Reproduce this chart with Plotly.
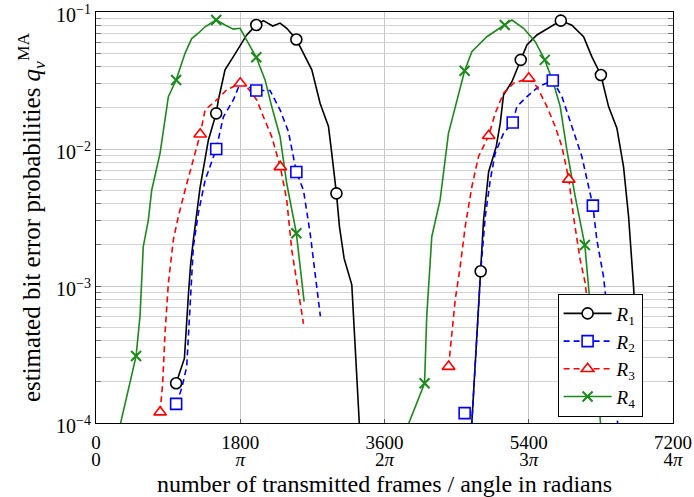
import plotly.graph_objects as go

# ---------------- data ----------------
R1_x = [1000, 1103, 1153, 1182, 1215, 1298, 1402, 1500, 1527, 1610, 1714, 1881, 2000, 2089, 2205, 2297, 2380, 2500, 2589, 2693, 2797, 2901, 2942, 3000, 3038, 3096, 3192, 3233, 3300,
        None,
        4680, 4800, 4836, 4899, 4994, 5044, 5085, 5190, 5273, 5300, 5377, 5502, 5606, 5800, 5938, 6084, 6188, 6300, 6396, 6500, 6583, 6646, 6708, 6780]
R1_y = [1.95e-4, 2.96e-4, 8.6e-4, 1.47e-3, 2.17e-3, 5.2e-3, 1.16e-2, 1.82e-2, 2.28e-2, 3.78e-2, 4.72e-2, 6.8e-2, 8.04e-2, 8.65e-2, 7.9e-2, 8.3e-2, 7.6e-2, 6.3e-2, 4.99e-2, 3.78e-2, 2.15e-2, 1.46e-2, 9.3e-3, 4.74e-3, 2.71e-3, 1.59e-3, 1.02e-3, 3.4e-4, 7e-5,
        None,
        8e-5, 1.28e-3, 3.03e-3, 6.8e-3, 1.04e-2, 1.54e-2, 2.48e-2, 3.1e-2, 4.1e-2, 4.47e-2, 5.74e-2, 6.8e-2, 7.4e-2, 8.65e-2, 8.0e-2, 6.6e-2, 4.7e-2, 3.47e-2, 2.04e-2, 1.42e-2, 7.4e-3, 3.2e-3, 9.9e-4, 1.5e-4]
R1_mx = [1000, 1500, 2000, 2500, 3000, 4800, 5300, 5800, 6300]
R1_my = [1.95e-4, 1.82e-2, 8.04e-2, 6.3e-2, 4.74e-3, 1.28e-3, 4.47e-2, 8.65e-2, 3.47e-2]

R2_x = [1000, 1070, 1132, 1174, 1215, 1277, 1361, 1500, 1590, 1714, 1798, 2000, 2172, 2297, 2401, 2500, 2589, 2672, 2755, 2800,
        None,
        4680, 4800, 4857, 4919, 4981, 5085, 5200, 5252, 5377, 5522, 5700, 5814, 5938, 6063, 6200, 6250, 6333, 6420, 6500, 6540]
R2_y = [1.38e-4, 1.79e-4, 2.58e-4, 7.9e-4, 1.94e-3, 3.4e-3, 5.9e-3, 1.0e-2, 1.72e-2, 2.28e-2, 3.02e-2, 2.67e-2, 2.67e-2, 1.93e-2, 1.34e-2, 6.8e-3, 5.0e-3, 2.43e-3, 9.4e-4, 6.0e-4,
        None,
        8e-5, 1.28e-3, 3.2e-3, 5.9e-3, 9.3e-3, 1.3e-2, 1.56e-2, 2.04e-2, 2.41e-2, 2.85e-2, 3.16e-2, 2.41e-2, 1.46e-2, 8.8e-3, 3.86e-3, 2.17e-3, 1.17e-3, 4e-4, 1.11e-4, 7e-5]
R2_mx = [1000, 1500, 2000, 2500, 4600, 5200, 5700, 6200]
R2_my = [1.38e-4, 1.0e-2, 2.67e-2, 6.8e-3, 1.18e-4, 1.56e-2, 3.16e-2, 3.86e-3]

R3_x = [800, 832, 861, 903, 965, 1027, 1111, 1215, 1300, 1361, 1506, 1631, 1800, 1881, 2006, 2089, 2193, 2300, 2380, 2443, 2526, 2589,
        None,
        4400, 4419, 4482, 4544, 4607, 4690, 4773, 4900, 4981, 5085, 5210, 5400, 5502, 5627, 5730, 5814, 5900, 5959, 6042, 6105, 6180]
R3_y = [1.2e-4, 1.95e-4, 4.5e-4, 1.05e-3, 2.17e-3, 3.2e-3, 5.0e-3, 8.3e-3, 1.28e-2, 1.93e-2, 2.28e-2, 2.7e-2, 3.02e-2, 2.85e-2, 2.28e-2, 1.72e-2, 1.23e-2, 7.4e-3, 4.25e-3, 1.83e-3, 9.4e-4, 5.3e-4,
        None,
        2.58e-4, 3.4e-4, 7.9e-4, 1.38e-3, 2.71e-3, 5.3e-3, 8.8e-3, 1.25e-2, 1.82e-2, 2.55e-2, 3.02e-2, 3.28e-2, 2.85e-2, 2.04e-2, 1.46e-2, 1.04e-2, 6.0e-3, 3.2e-3, 1.55e-3, 1.05e-3, 4e-4]
R3_mx = [800, 1300, 1800, 2300, 4400, 4900, 5400, 5900]
R3_my = [1.2e-4, 1.28e-2, 3.02e-2, 7.4e-3, 2.58e-4, 1.25e-2, 3.28e-2, 6.0e-3]

R4_x = [260, 500, 549, 590, 653, 695, 799, 903, 1000, 1111, 1194, 1277, 1361, 1500, 1610, 1714, 1798, 1881, 2000, 2110, 2193, 2297, 2380, 2500, 2547, 2597,
        None,
        3860, 4100, 4127, 4190, 4294, 4398, 4600, 4690, 4877, 5100, 5190, 5335, 5481, 5600, 5709, 5793, 5876, 5980, 6100, 6146, 6296, 6310]
R4_y = [7.6e-5, 3.08e-4, 6.0e-4, 1.94e-3, 3.03e-3, 5.0e-3, 9.3e-3, 2.41e-2, 3.19e-2, 4.99e-2, 6.4e-2, 7.0e-2, 7.8e-2, 8.74e-2, 8.04e-2, 7.5e-2, 7.6e-2, 6.25e-2, 4.67e-2, 3.19e-2, 2.04e-2, 1.23e-2, 5.6e-3, 2.43e-3, 1.38e-3, 7.7e-4,
        None,
        8.6e-5, 1.95e-4, 6.0e-4, 2.29e-3, 4.25e-3, 1.3e-2, 3.73e-2, 5.13e-2, 6.6e-2, 8.04e-2, 8.74e-2, 7.6e-2, 6.08e-2, 4.47e-2, 3.02e-2, 2.04e-2, 9.8e-3, 4.49e-3, 1.99e-3, 9.9e-4, 1e-4, 8e-5]
R4_mx = [500, 1000, 1500, 2000, 2500, 4100, 4600, 5100, 5600, 6100]
R4_my = [3.08e-4, 3.19e-2, 8.74e-2, 4.67e-2, 2.43e-3, 1.95e-4, 3.73e-2, 8.04e-2, 4.47e-2, 1.99e-3]

x_tickvals = [0, 1800, 3600, 5400, 7200]
x_ticktext = ["0", "1800", "3600", "5400", "7200"]
x_ticktext_rad = ["0", "<i>π</i>", "2<i>π</i>", "3<i>π</i>", "4<i>π</i>"]
y_tickvals = [1e-4, 1e-3, 1e-2, 1e-1]
y_ticktext = ["10<sup>−4</sup>", "10<sup>−3</sup>", "10<sup>−2</sup>", "10<sup>−1</sup>"]

series = [
    ("<i>R</i><sub>1</sub>", R1_x, R1_y, R1_mx, R1_my, "black", "solid",
     dict(symbol="circle", size=11, color="white", line=dict(color="black", width=1.6))),
    ("<i>R</i><sub>2</sub>", R2_x, R2_y, R2_mx, R2_my, "#0000ff", "6px,4px",
     dict(symbol="square", size=11, color="white", line=dict(color="#0000ff", width=1.6))),
    ("<i>R</i><sub>3</sub>", R3_x, R3_y, R3_mx, R3_my, "#ff0000", "6px,4px",
     dict(symbol="triangle-up", size=11, color="white", line=dict(color="#ff0000", width=1.6))),
    ("<i>R</i><sub>4</sub>", R4_x, R4_y, R4_mx, R4_my, "#1b8a1b", "solid",
     dict(symbol="x-thin", size=10, color="#1b8a1b", line=dict(color="#1b8a1b", width=2))),
]

fig = go.Figure()
for name, xs, ys, mx, my, col, dash, mk in series:
    fig.add_trace(go.Scatter(x=xs, y=ys, mode="lines", showlegend=False,
                             line=dict(color=col, width=1.6, dash=dash), connectgaps=False,
                             hoverinfo="skip"))
for name, xs, ys, mx, my, col, dash, mk in series:
    fig.add_trace(go.Scatter(x=mx, y=my, mode="markers", showlegend=False, marker=mk))
# legend entries (line + marker), placed on the secondary x axis that carries the radian labels
for name, xs, ys, mx, my, col, dash, mk in series:
    fig.add_trace(go.Scatter(x=[None], y=[None], mode="lines+markers", name=name, xaxis="x2",
                             line=dict(color=col, width=1.6, dash=dash), marker=mk))

font_family = "Liberation Serif, DejaVu Serif, serif"
fig.update_layout(
    width=694, height=497,
    margin=dict(l=96, r=21, t=12, b=74),
    paper_bgcolor="white", plot_bgcolor="white",
    font=dict(family=font_family, size=20, color="black"),
    showlegend=True,
    legend=dict(x=0.80, y=0.315, xanchor="left", yanchor="top",
                bgcolor="white", bordercolor="black", borderwidth=1,
                font=dict(size=19), tracegroupgap=0, itemwidth=48, entrywidth=52),
    xaxis=dict(range=[0, 7200], tickvals=x_tickvals, ticktext=x_ticktext,
               showgrid=True, gridcolor="#c8c8c8", gridwidth=1,
               showline=True, linecolor="black", linewidth=1, mirror=True,
               ticks="inside", ticklen=4, tickcolor="#555", automargin=False,
               zeroline=False, tickfont=dict(size=19), ticklabelstandoff=2,
               title=dict(text="number of transmitted frames / angle in radians", standoff=23,
                          font=dict(size=24))),
    xaxis2=dict(range=[0, 7200], tickvals=x_tickvals, ticktext=x_ticktext_rad,
                overlaying="x", anchor="y", side="bottom", showgrid=False, showline=False,
                ticks="", zeroline=False, tickfont=dict(size=19), ticklabelstandoff=23,
                automargin=False),
    yaxis=dict(type="log", range=[-4, -1], tickvals=y_tickvals, ticktext=y_ticktext,
               showgrid=True, gridcolor="#c8c8c8", gridwidth=1,
               showline=True, linecolor="black", linewidth=1, mirror="allticks",
               ticks="inside", ticklen=5, tickcolor="#555", tickfont=dict(size=20),
               ticklabeloverflow="allow", automargin=False, ticklabelshift=3,
               minor=dict(ticks="inside", ticklen=3, tickcolor="#777", showgrid=True,
                          gridcolor="#d4d4d4", gridwidth=1, dtick="D1"),
               title=dict(text="estimated bit error probabilities <i>q</i><sub><i>ν</i></sub><sup>MA</sup>",
                          standoff=8, font=dict(size=25))),
)

fig.write_html("out.html")
